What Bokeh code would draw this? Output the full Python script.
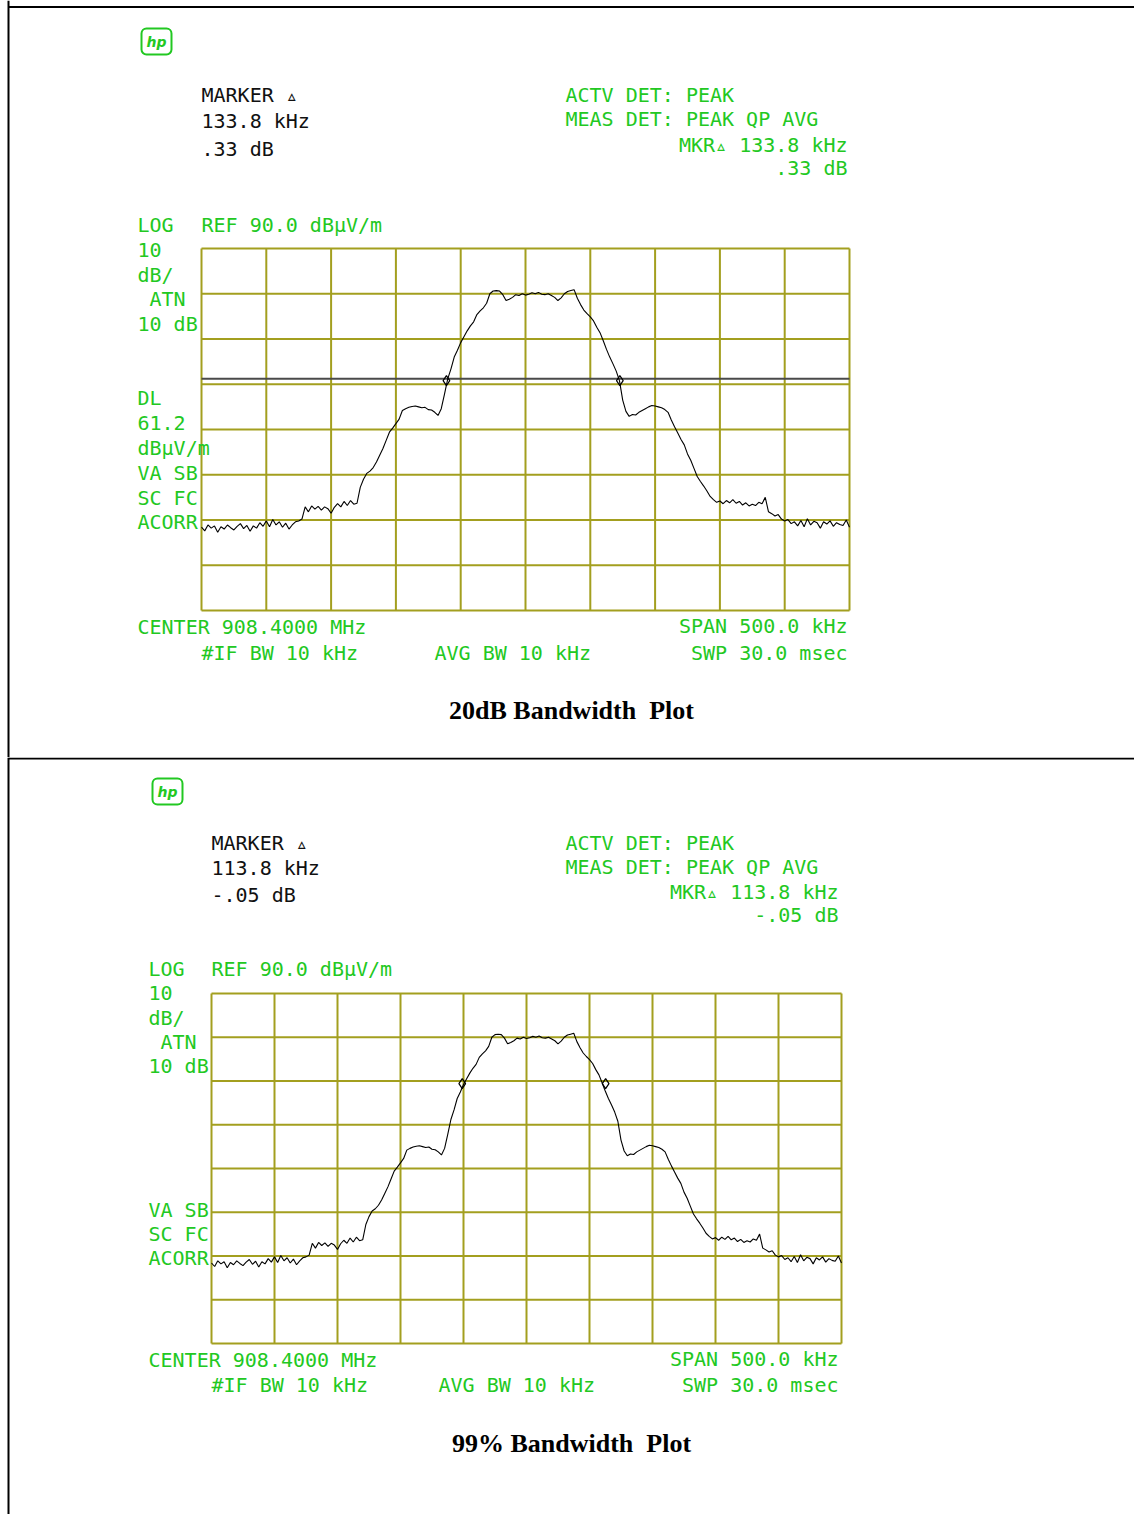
import numpy as np
from bokeh.plotting import figure
from bokeh.models import Label, Span, ColumnDataSource, Range1d
from bokeh.layouts import column
from bokeh.embed import file_html
from bokeh.resources import INLINE

# ---------------- data ----------------
span_khz = 500.0
ref_db = 90.0
db_per_div = 10.0
n_xdiv = 10
n_ydiv = 8
dl_db = 61.2

# trace level, dBuV/m, sampled every 2.5 kHz from -250 kHz to +250 kHz (offset from 908.4 MHz)
trace_db = [
    28.4, 27.6, 28.9, 28.2, 28.7, 27.3, 28.5, 28.0, 28.9, 28.3,
    27.8, 28.6, 29.2, 28.1, 28.8, 27.5, 28.7, 28.2, 29.4, 28.6,
    29.8, 28.5, 30.1, 28.9, 29.6, 28.4, 29.3, 28.0,
    28.9, 29.6, 29.8, 30.2, 32.9, 31.8, 33.1, 32.4, 33.0, 32.2,
    32.9, 32.5, 31.5, 32.8, 33.6, 32.9, 34.1, 33.2, 34.3, 33.5,
    33.7, 37.2, 39.0, 40.3, 40.8, 41.6, 42.8, 44.3, 45.8, 47.6,
    49.4, 50.3, 51.3, 52.3, 54.2, 54.6, 54.9, 55.1, 55.2, 55.0,
    54.8, 54.9, 54.4, 54.3, 53.8, 53.1, 54.6, 57.8, 61.2, 63.4,
    66.0, 67.5, 69.2, 70.5, 71.8, 72.9, 73.8, 75.4, 76.2, 76.9,
    77.9, 80.0, 80.6, 80.7, 80.6, 79.8, 78.5, 78.8, 79.2, 79.8,
    79.6, 80.0, 79.7, 79.9, 80.2, 80.0, 80.3, 79.9, 79.8, 80.0,
    79.6, 79.2, 78.5, 79.1, 80.0, 80.5, 80.7, 80.9, 79.0, 77.6,
    76.4, 75.6, 74.9, 74.0, 72.6, 71.4, 69.6, 67.7, 66.0, 64.5,
    62.9, 60.8, 56.5, 54.0, 52.9, 53.3, 53.2, 53.8, 54.2, 54.6,
    55.0, 55.3, 55.2, 55.0, 54.8, 54.4, 53.8, 52.1, 50.6, 49.2,
    47.8, 46.6, 44.6, 43.2, 41.4, 39.6, 38.5, 37.5, 36.4, 35.2,
    34.5, 33.9, 34.2, 33.6, 34.3, 33.8, 34.5, 33.7, 34.1, 33.3,
    33.8, 33.1, 33.5, 33.2, 33.9, 33.6, 35.0, 31.8, 31.4, 30.9,
    31.2, 30.2, 29.8, 30.1, 29.2, 29.6, 28.7, 29.9, 28.5, 30.3,
    28.9, 29.7, 29.4, 28.2, 29.6, 29.1, 29.8, 28.6, 29.4, 29.0,
    28.8, 30.0, 28.4,
]
freq_khz = list(np.linspace(-span_khz / 2, span_khz / 2, len(trace_db)))

# delta markers
mk1_khz = [-61.0, 72.8]
mk1_db = [60.8, 60.8]
mk2_khz = [-51.0, 62.8]
mk2_db = [69.4, 69.4]

GREEN = "#22c822"
GRID = "#a39f1f"
MONO = "DejaVu Sans Mono"

PAGE_W = 1134
x_lo, x_hi = -span_khz / 2, span_khz / 2
y_lo, y_hi = ref_db - n_ydiv * db_per_div, ref_db
grid_x = [x_lo + i * span_khz / n_xdiv for i in range(n_xdiv + 1)]
grid_y = [y_lo + i * db_per_div for i in range(n_ydiv + 1)]


def make_panel(fx0, fy0, fw, fh, page_top, page_h, mk_x, mk_y, show_dl,
               green_left, green_right, black_left, title, title_xy, logo_xy,
               top_line_y):
    # conversion of page pixel positions (for text placement) to data units
    def X(px):
        return (px - fx0) / fw * span_khz + x_lo

    def Y(py):
        return y_hi - (py - fy0) / fh * (y_hi - y_lo)

    p = figure(width=PAGE_W, height=page_h,
               x_range=Range1d(X(0), X(PAGE_W)),
               y_range=Range1d(Y(page_top + page_h), Y(page_top)),
               x_axis_location=None, y_axis_location=None, toolbar_location=None,
               output_backend="svg", min_border=0)
    p.outline_line_color = None
    p.grid.visible = False
    p.background_fill_color = "white"
    p.border_fill_color = "white"

    # graticule
    xs = [[g, g] for g in grid_x] + [[x_lo, x_hi] for _ in grid_y]
    ys = [[y_lo, y_hi] for _ in grid_x] + [[g, g] for g in grid_y]
    p.multi_line(xs, ys, line_color=GRID, line_width=2)

    if show_dl:
        p.segment(x0=[x_lo], y0=[dl_db], x1=[x_hi], y1=[dl_db],
                  line_color="#4a4a4a", line_width=2)

    src = ColumnDataSource(dict(x=freq_khz, y=trace_db))
    p.line("x", "y", source=src, line_color="black", line_width=1.1)
    p.scatter(mk_x, mk_y, marker="diamond", size=10, fill_color=None,
              line_color="black", line_width=1.2)

    # page frame lines
    p.add_layout(Span(location=X(8), dimension="height", line_color="black",
                      line_width=2))
    p.segment(x0=[X(8)], y0=[Y(top_line_y)], x1=[X(PAGE_W)], y1=[Y(top_line_y)],
              line_color="black", line_width=2)

    for txt, px, py in green_left:
        p.add_layout(Label(x=X(px), y=Y(py), text=txt, text_font=MONO,
                           text_font_size="20px", text_color=GREEN,
                           text_baseline="middle", text_align="left"))
    for txt, px, py in green_right:
        p.add_layout(Label(x=X(px), y=Y(py), text=txt, text_font=MONO,
                           text_font_size="20px", text_color=GREEN,
                           text_baseline="middle", text_align="right"))
    for txt, px, py in black_left:
        p.add_layout(Label(x=X(px), y=Y(py), text=txt, text_font=MONO,
                           text_font_size="20px", text_color="#111111",
                           text_baseline="middle", text_align="left"))
    p.add_layout(Label(x=X(title_xy[0]), y=Y(title_xy[1]), text=title,
                       text_font="Liberation Serif", text_font_style="bold",
                       text_font_size="26px", text_color="black",
                       text_baseline="middle", text_align="center"))
    p.add_layout(Label(x=X(logo_xy[0]), y=Y(logo_xy[1]), text="hp",
                       text_font="DejaVu Sans", text_font_style="bold italic",
                       text_font_size="14px", text_color=GREEN,
                       text_baseline="middle", text_align="center",
                       border_line_color=GREEN, border_line_width=2,
                       border_radius=5, padding=5))
    return p


p1 = make_panel(
    201, 248, 648, 362, 0, 757, mk1_khz, mk1_db, True,
    [("LOG", 137, 224), ("REF 90.0 dBµV/m", 201, 224), ("10", 137, 249),
     ("dB/", 137, 274), ("ATN", 149, 298), ("10 dB", 137, 323),
     ("DL", 137, 397), ("61.2", 137, 422), ("dBµV/m", 137, 447),
     ("VA SB", 137, 472), ("SC FC", 137, 497), ("ACORR", 137, 521),
     ("CENTER 908.4000 MHz", 137, 626), ("#IF BW 10 kHz", 201, 652),
     ("AVG BW 10 kHz", 434, 652), ("ACTV DET: PEAK", 565, 94),
     ("MEAS DET: PEAK QP AVG", 565, 118)],
    [("MKR▵ 133.8 kHz", 847, 144), (".33 dB", 847, 167),
     ("SPAN 500.0 kHz", 847, 625), ("SWP 30.0 msec", 847, 652)],
    [("MARKER ▵", 201, 94), ("133.8 kHz", 201, 120), (".33 dB", 201, 148)],
    "20dB Bandwidth\u00a0 Plot", (571, 710), (156, 41), 6.5)

p2 = make_panel(
    211, 993, 630, 350, 757, 757, mk2_khz, mk2_db, False,
    [("LOG", 148, 968), ("REF 90.0 dBµV/m", 211, 968), ("10", 148, 992),
     ("dB/", 148, 1017), ("ATN", 160, 1041), ("10 dB", 148, 1065),
     ("VA SB", 148, 1209), ("SC FC", 148, 1233), ("ACORR", 148, 1257),
     ("CENTER 908.4000 MHz", 148, 1359), ("#IF BW 10 kHz", 211, 1384),
     ("AVG BW 10 kHz", 438, 1384), ("ACTV DET: PEAK", 565, 842),
     ("MEAS DET: PEAK QP AVG", 565, 866)],
    [("MKR▵ 113.8 kHz", 838, 891), ("-.05 dB", 838, 914),
     ("SPAN 500.0 kHz", 838, 1358), ("SWP 30.0 msec", 838, 1384)],
    [("MARKER ▵", 211, 842), ("113.8 kHz", 211, 867), ("-.05 dB", 211, 894)],
    "99% Bandwidth\u00a0 Plot", (571, 1443), (167, 791), 758)

layout = column(p1, p2, spacing=0)
open("out.html", "w").write(file_html(layout, INLINE))
